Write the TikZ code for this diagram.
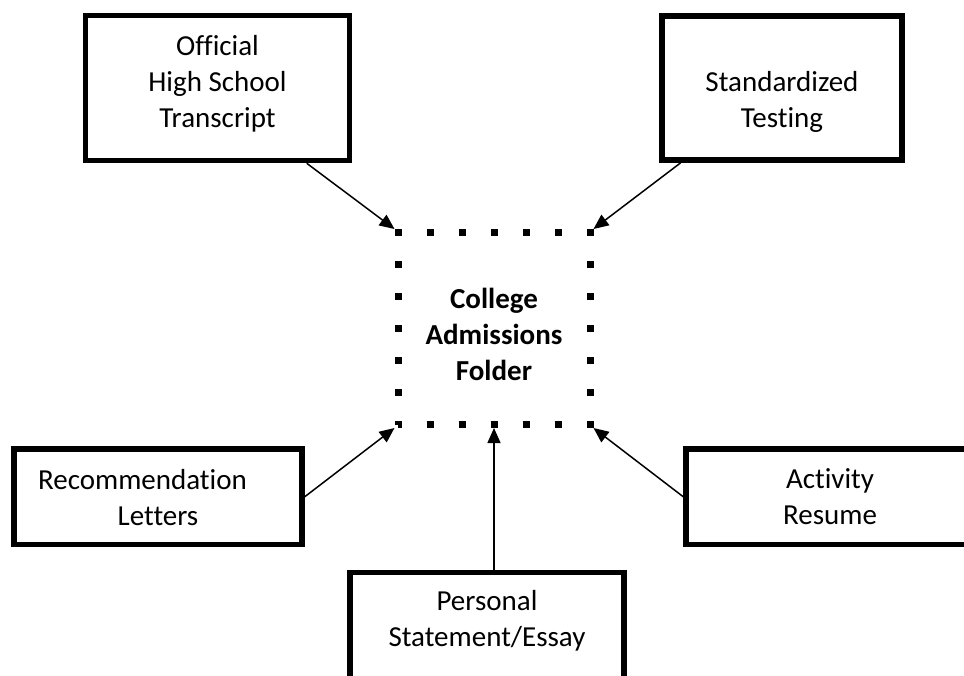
\documentclass[tikz,border=0pt]{standalone}
\usepackage{fontspec}
\setmainfont{Carlito}[Ligatures={NoCommon,NoContextual}]
\usetikzlibrary{arrows.meta,calc}

% text set top-aligned inside a fixed-size frame: width, height, first baseline, lines
\newcommand{\cardtext}[4]{\parbox[c][#2][t]{#1}{\centering\rule{0pt}{#3}#4}}

\tikzset{
  sourcebox/.style={draw, line width=5.5pt, inner sep=0pt,
    font=\fontsize{29}{36}\selectfont},
  folderbox/.style={draw, line width=7pt, dash pattern=on 7pt off 25pt,
    dash phase=3.5pt, inner sep=0pt,
    font=\fontsize{29}{36}\selectfont\bfseries},
  feed/.style={line width=1.5pt, -{Triangle[length=15pt,width=13pt]}},
}

\begin{document}
\begin{tikzpicture}[x=1pt, y=-1pt]
  \useasboundingbox (0,0) rectangle (964,675);
  \clip (0,0) rectangle (964,675);

  % central folder
  \node[folderbox] (folder) at (494,328.5)
    {\cardtext{192pt}{192pt}{76pt}{College\\Admissions\\Folder}};

  % application parts
  \node[sourcebox] (transcript) at (217.5,88)
    {\cardtext{264pt}{145pt}{39.5pt}{Official\\High School\\Transcript}};
  \node[sourcebox] (testing) at (782,88)
    {\cardtext{240pt}{144pt}{39.5pt}{\mbox{}\\Standardized\\Testing}};
  \node[sourcebox] (letters) at (158,496.75)
    {\cardtext{288pt}{95.5pt}{40pt}{Recommendation\kern31pt\\Letters}};
  \node[sourcebox] (resume) at (830,496.75)
    {\cardtext{288pt}{95.5pt}{39.5pt}{Activity\\Resume}};
  \node[sourcebox] (essay) at (487,637.5)
    {\cardtext{274pt}{130pt}{38pt}{Personal\\Statement/Essay}};

  % connectors into the folder
  \draw[feed] ($(transcript.south west)!0.831!(transcript.south east)$) -- (folder.north west);
  \draw[feed] ($(testing.south west)!0.0875!(testing.south east)$) -- (folder.north east);
  \draw[feed] (letters.east) -- (folder.south west);
  \draw[feed] (resume.west) -- (folder.south east);
  \draw[feed] (essay.north -| folder.south) -- (folder.south);
\end{tikzpicture}
\end{document}
